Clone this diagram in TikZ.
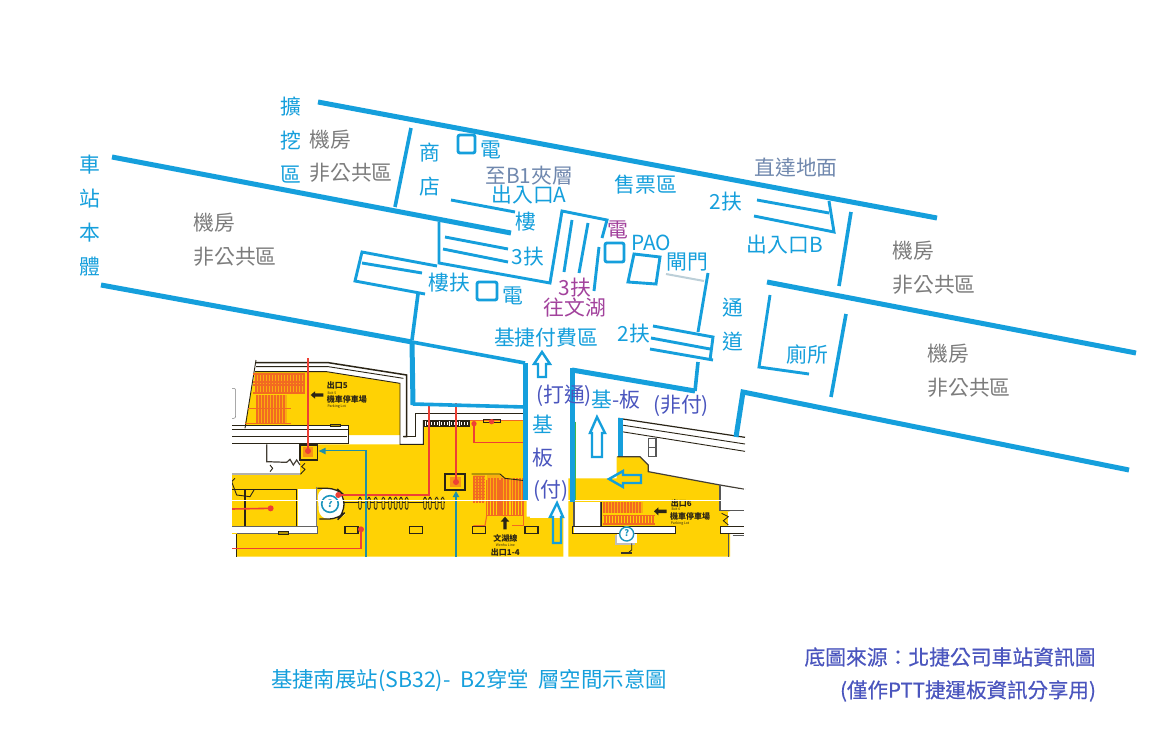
\documentclass[tikz,border=0pt]{standalone}
\usepackage{fontspec}
\setmainfont{Noto Sans CJK TC}
\newfontfamily\semibold[FakeBold=0.45]{Noto Sans CJK TC}
\definecolor{bl}{HTML}{159FDC}
\definecolor{gy}{HTML}{7C7C7C}
\definecolor{sl}{HTML}{7088AE}
\definecolor{pu}{HTML}{A2429C}
\definecolor{ind}{HTML}{4A55BE}
\definecolor{ye}{HTML}{FFD204}
\definecolor{rd}{HTML}{EE4035}
\definecolor{og}{HTML}{F26A21}
\definecolor{te}{HTML}{1E8FA8}
\definecolor{dk}{HTML}{2A2416}
\tikzset{
 thickw/.style={draw=bl,line width=5pt},
 midw/.style={draw=bl,line width=3.6pt},
 thinw/.style={draw=bl,line width=2.9pt},
 lab/.style={inner sep=0pt,font=\fontsize{20.8}{21}\selectfont,text=bl},
 labg/.style={lab,text=gy},
 labs/.style={lab,text=sl},
 labp/.style={lab,text=pu},
 labi/.style={lab,text=ind},
 harrow/.style={draw=bl,line width=2.4pt,fill=none,line join=miter},
 redl/.style={draw=rd,line width=1.6pt},
 wall/.style={draw=dk,line width=.9pt},
 stripe/.style={draw=og,line width=1.6pt},
 mapt/.style={inner sep=0pt,font=\fontsize{8}{8}\selectfont\bfseries,text=dk},
 maps/.style={inner sep=0pt,font=\fontsize{3.5}{4}\selectfont,text=dk},
}
\begin{document}
\begin{tikzpicture}[x=1pt,y=-1pt]
\useasboundingbox (0,0) rectangle (1175,747);
\fill[white] (0,0) rectangle (1175,747);
% ---------- map, left part (coordinates of a 3x crop at 230,350)
\begin{scope}
\clip (232,352) rectangle (745,556);
\begin{scope}[shift={(230,350)},x=1/3pt,y=-1/3pt]
 % yellow
 \fill[ye] (75,65) -- (290,65) -- (510,100) -- (510,255) -- (355,255) -- (355,225) -- (45,225) -- cycle;
 \fill[ye] (5,375) -- (210,375) -- (210,283) -- (580,283) -- (580,210) -- (890,210) -- (890,500) -- (1000,500) -- (1000,620) -- (5,620) -- cycle;
 % walls
 \draw[line width=1.5pt,dk] (78,38) -- (295,38) -- (530,75) -- (530,260) -- (520,260);
 \draw[wall] (78,50) -- (295,50) -- (520,85);
 \draw[wall] (75,65) -- (290,65) -- (510,100) -- (510,283) -- (580,283) -- (580,210);
 \draw[wall] (548,165) -- (890,165);
 \draw[wall] (555,190) -- (890,190);
 \draw[wall] (555,190) -- (555,260) -- (520,260);
 \draw[wall] (78,30) -- (45,235);
 % corridor
 \fill[white] (5,237) rectangle (355,280);
 \draw[wall] (5,225) -- (355,225) -- (355,280) -- (5,280);
 \draw[wall] (5,237) -- (355,237);
 \draw[wall] (5,258) -- (352,258);
 \draw[draw=gy,line width=.5pt,rounded corners=2pt] (5,115) -- (17,115) -- (17,205) -- (5,205);
 \fill[ye!70!black] (302,222) rectangle (330,230);
 \draw[wall] (302,222) rectangle (330,230);
 % ticket gates strip
 \fill[white] (582,212) rectangle (718,228);
 \draw[wall] (582,212) rectangle (718,228);
 \foreach \i in {590,600,...,710}{\draw[dk,line width=.5pt] (\i,215) rectangle +(6,10);}
 \draw[line width=1.6pt,og] (720,212) -- (885,212);
 \draw[wall] (760,209) -- (810,209) -- (810,216) -- (760,216) -- cycle;
 % white room left
 \fill[white] (5,283) rectangle (110,370);
 \fill[white] (110,283) -- (210,283) -- (210,372) -- (110,372) -- cycle;
 \draw[draw=dk!70!gy,line width=1.2pt] (110,283) -- (110,335) -- (170,337) -- (180,328) -- (190,345) -- (200,330) -- (210,345);
 \draw[wall] (5,372) -- (212,372) -- (225,358) -- (215,350) -- (225,340);
 \draw[wall] (120,345) -- (128,355) -- (120,365);
 % lower-left rooms
 \fill[ye] (5,415) rectangle (200,528);
 \draw[line width=1.3pt,dk] (5,418) -- (200,418) -- (200,528);
 \draw[line width=1.3pt,dk] (45,418) -- (45,528);
 \draw[wall] (15,385) -- (5,395) -- (20,435) -- (60,440) -- (72,420);
 \fill[white] (203,418) rectangle (260,528);
 \draw[gy,line width=.8pt] (260,410) -- (260,528);
 \fill[white] (5,530) rectangle (262,550);
 \draw[draw=gy!80!black,line width=1pt] (5,530) -- (262,530) -- (262,550) -- (20,550);
 \fill[ye!70!black] (145,545) rectangle (175,553);
 \draw[wall] (145,545) rectangle (175,553);
 \fill[white] (5,553) rectangle (20,620);
 \draw[wall] (20,553) -- (20,620);
 % info booth
 \fill[white,rounded corners=9pt] (262,415) -- (320,415) -- (342,435) -- (342,495) -- (325,507) -- (268,507) -- cycle;
 \draw[dk,line width=1.3pt,rounded corners=9pt] (262,415) -- (320,415) -- (342,435) -- (342,490) -- (325,507) -- (268,507);
 \draw[te!60!bl,line width=1.6pt] (300,462) circle (25);
 \node[inner sep=0pt,font=\fontsize{10}{10}\selectfont\bfseries,text=te!60!bl] (infoa) at (300,461) {?};
 % seats row
 \draw[dk,line width=.9pt] (340,457) -- (645,457);
 \foreach \i in {390,417,437,460,480,497,513,530,585,600,620,638}{
   \fill[ye] (\i-4,442) rectangle (\i+4,478);
   \draw[dk,line width=.8pt,rounded corners=1.5pt] (\i-4,442) rectangle (\i+4,478);
 }
 % small boxes
 \foreach \i in {345,538,727,885}{\draw[dk,line width=1.1pt] (\i,530) rectangle +(39,20);}
 % stairs right
 \fill[og!35!ye] (730,375) -- (810,375) -- (825,385) -- (885,390) -- (885,455) -- (730,455) -- cycle;
 \foreach \i in {732,741,...,765}{\draw[stripe] (\i,378) -- (\i,458);}
 \foreach \i in {777,786,...,805,816,825,...,840,852,861,...,880}{\draw[stripe] (\i,385) -- (\i,495);}
 \foreach \j in {380,389,...,460}{\draw[og,line width=1pt] (730,\j) -- (765,\j);}
 \fill[ye] (765,375) rectangle (770,495);
 \draw[dk,line width=.9pt] (725,372) -- (810,372) -- (825,385) -- (885,392);
 \draw[og,line width=1.1pt] (770,390) -- (770,497) -- (765,527) -- (730,527);
 \draw[og,line width=1.1pt] (810,390) -- (810,497);
 \draw[og,line width=1.1pt] (845,390) -- (845,497);
 \draw[og,line width=1.1pt] (880,390) -- (880,527) -- (845,527);
 \draw[og,line width=1.1pt] (770,497) -- (880,497);
 % stairs upper-left
 \fill[og!35!ye] (75,70) rectangle (225,130);
 \fill[og!35!ye] (78,135) rectangle (170,222);
 \foreach \i in {78,87,...,222}{\draw[stripe] (\i,70) -- (\i,130);}
 \foreach \i in {81,90,...,170}{\draw[stripe] (\i,135) -- (\i,222);}
 \foreach \j in {72,96,105,128}{\draw[og,line width=2pt] (68,\j) -- (225,\j);}
 \draw[og,line width=1.2pt] (55,175) -- (183,175);
 \draw[og,line width=1.2pt] (45,220) -- (183,220);
 % elevators
 \fill[dk] (208,282) rectangle (265,333);
 \fill[ye] (213,288) rectangle (260,326);
 \fill[og!60!ye] (220,292) rectangle (248,322);
 \fill[dk] (642,370) rectangle (708,422);
 \fill[ye] (648,376) rectangle (702,416);
 \fill[og!60!ye] (660,382) rectangle (692,412);
 % red routes
 \draw[redl] (234,25) -- (234,305);
 \draw[redl] (597,160) -- (597,435) -- (325,435);
 \draw[redl] (678,160) -- (678,395);
 \draw[redl] (732,220) -- (732,277) -- (885,277);
 \draw[redl] (5,477) -- (122,475);
 \draw[redl] (393,538) -- (393,595) -- (5,595);
 \foreach \a/\b/\r in {234/303/9,325/435/9,678/396/9,732/221/8,785/215/8,122/475/9,393/538/9}{\fill[rd] (\a,\b) circle (\r);}
 % teal routes
 \draw[te,line width=1.6pt] (408,620) -- (408,302) -- (285,302);
 \fill[te] (266,303) -- (287,293) -- (287,313) -- cycle;
 \draw[te,line width=1.6pt] (678,620) -- (678,440);
 \fill[te] (678,423) -- (668,441) -- (688,441) -- cycle;
 % black arrows
 \fill[dk] (242,135) -- (255,124) -- (255,130) -- (280,130) -- (280,140) -- (255,140) -- (255,146) -- cycle;
 \fill[dk] (825,500) -- (838,515) -- (830,515) -- (830,538) -- (820,538) -- (820,515) -- (812,515) -- cycle;
 % green edge
 \draw[green!45!gy,line width=1pt] (888,215) -- (888,450);
 % text
 \node[mapt,anchor=west] (t5) at (290,107) {出口5};
 \node[maps,anchor=west] (t5b) at (292,128) {Exit 5};
 \node[mapt,anchor=west] (t5c) at (290,149) {機車停車場};
 \node[maps,anchor=west] (t5d) at (292,170) {Parking Lot};
 \node[mapt] (t1) at (826,566) {文湖線};
 \node[maps] (t1b) at (826,586) {Wenhu Line};
 \node[mapt] (t1c) at (826,608) {出口1-4};
\end{scope}
% right part (coordinates of a 3x crop at 500,350)
\begin{scope}[shift={(500,350)},x=1/3pt,y=-1/3pt]
 \fill[white] (90,120) rectangle (205,505);
 \fill[white] (228,90) rectangle (355,385);
 \fill[ye] (205,385) -- (350,385) -- (350,320) -- (420,320) -- (445,345) -- (445,365) -- (660,405) -- (660,480) -- (690,485) -- (690,620) -- (205,620) -- (205,505) -- cycle;
 \fill[white] (205,100) rectangle (228,385);
 \draw[green!45!gy,line width=1pt] (226,215) -- (226,450);
 % upper wall
 \draw[line width=1.2pt,dk] (355,205) -- (735,262);
 \draw[wall] (365,225) -- (735,282);
 \draw[wall] (365,245) -- (735,304);
 \draw[line width=1.2pt,draw=dk!70!gy] (352,320) -- (420,320) -- (445,345) -- (445,365) -- (660,405);
 \draw[line width=1.2pt,draw=dk!70!gy] (660,405) -- (735,418);
 \draw[line width=1.2pt,draw=gy!70!black] (445,265) rectangle (468,320);
 \draw[line width=1.2pt,draw=gy!70!black] (445,292) -- (468,292);
 % rooms
 \fill[white] (222,456) rectangle (300,528);
 \draw[draw=gy!70!black,line width=1.3pt] (222,456) -- (222,528);
 \draw[draw=gy!70!black,line width=1pt] (300,456) -- (300,528);
 \fill[white] (222,530) rectangle (527,551);
 \draw[dk,line width=1pt] (218,530) rectangle (527,551);
 % stair
 \fill[og!35!ye] (310,456) rectangle (428,490);
 \foreach \i in {312,321,...,428}{\draw[stripe] (\i,456) -- (\i,490);}
 \foreach \i in {315,324,...,465}{\draw[stripe] (\i,498) -- (\i,522);}
 \draw[og,line width=1.2pt] (310,497) -- (465,497);
 \draw[og,line width=1.2pt] (310,522) -- (465,522);
 \draw[dk,line width=.8pt] (305,456) -- (305,528) -- (480,528);
 % right rooms
 \fill[white] (660,410) -- (735,420) -- (735,482) -- (660,482) -- cycle;
 \fill[white] (685,485) rectangle (735,528);
 \draw[draw=gy!70!black,line width=1.2pt] (660,405) -- (660,482) -- (735,482);
 \fill[white] (660,530) rectangle (735,551);
 \draw[dk,line width=1pt] (735,528) -- (660,528) -- (660,551) -- (735,551);
 \draw[dk,line width=.8pt] (665,490) -- (685,500) -- (670,512) -- (685,525);
 \fill[white] (700,553) rectangle (735,620);
 \draw[draw=gy!70!black,line width=1.2pt] (685,553) -- (685,620);
 \draw[draw=gy!70!black,line width=1.2pt] (698,556) -- (735,556);
 \fill[white] (732,352) rectangle (800,620);
 % info
 \fill[gy!50!white] (345,555) rectangle (405,585);
 \fill[white] (350,553) rectangle (410,580);
 \draw[dk,line width=.8pt] (395,580) -- (395,600) -- (385,608);
 \fill[dk!80!gy] (362,606) rectangle (395,612);
 \fill[white] (380,552) circle (23);
 \draw[te!60!bl,line width=1.4pt] (380,552) circle (21);
 \node[inner sep=0pt,font=\fontsize{9}{9}\selectfont\bfseries,text=te!60!bl] (infob) at (380,550) {?};
 % black arrow
 \fill[dk] (462,484) -- (475,472) -- (475,479) -- (500,479) -- (500,489) -- (475,489) -- (475,496) -- cycle;
 \node[mapt,anchor=west] (t6) at (512,459) {出口6};
 \node[maps,anchor=west] (t6b) at (514,478) {Exit 6};
 \node[mapt,anchor=west] (t6c) at (510,499) {機車停車場};
 \node[maps,anchor=west] (t6d) at (512,520) {Parking Lot};
\end{scope}
\end{scope}
% splice line of the two crops
\draw[white,line width=.9pt] (232,500) -- (745,500);
% ---------- blue plan
\draw[thickw] (318,102) -- (937,218);
\draw[thickw] (112,157) -- (511,233);
\draw[thickw] (101,285) -- (412,342);
\draw[thickw] (412,342) -- (413,405);
\draw[midw] (412,342) -- (525,363);
\draw[midw] (413,404) -- (525,407);
\draw[thickw] (525,363) -- (525,500);
\draw[thickw] (572,368) -- (572,502);
\draw[thickw] (572,370) -- (695,391);
\draw[midw] (695,391) -- (698,362);
\draw[thickw] (620,418) -- (620,456);
\draw[thickw] (736,437) -- (743,392) -- (1129,470);
\draw[thickw] (767,282) -- (1136,353);
\draw[midw] (411,128) -- (395,207);
\draw[thinw] (451,200) -- (515,212);
\draw[thinw] (439,222) -- (439,263) -- (550,283) -- (562,211) -- (607,220) -- (602,238);
\draw[thinw] (445,237) -- (508,249);
\draw[thinw] (443,249) -- (508,262);
\draw[thinw] (572,220) -- (564,272);
\draw[thinw] (588,223) -- (579,273);
\draw[thinw] (599,247) -- (594,291);
\draw[thinw,rounded corners=2pt] (605,243) rectangle (624,262);
\draw[thinw,rounded corners=2pt] (477,282) rectangle (497,300);
\draw[thinw,rounded corners=2pt] (458,135) rectangle (475,153);
\draw[thinw] (634,254) -- (660,257) -- (656,284) -- (628,282) -- cycle;
\draw[draw=bl!35!gy!40!white,line width=2pt] (666,274) -- (704,281);
\draw[thinw] (708,273) -- (698,332);
\draw[thinw] (653,326) -- (713,337) -- (710,360);
\draw[thinw] (651,338) -- (710,349);
\draw[thinw] (650,349) -- (713,360);
\draw[thinw] (437,266) -- (362,252) -- (355,281) -- (425,294);
\draw[thinw] (362,263) -- (422,273);
\draw[midw] (418,294) -- (412,340);
% upper right
\draw[thinw] (757,200) -- (829,213);
\draw[thinw] (754,216) -- (834,232) -- (829,201);
\draw[midw] (851,212) -- (839,286);
\draw[thinw] (770,295) -- (759,367) -- (809,374);
\draw[midw] (846,314) -- (831,397);
% hollow arrows
\draw[harrow] (538,377) -- (538,364) -- (534,364) -- (542,352) -- (550,364) -- (546,364) -- (546,377) -- cycle;
\draw[harrow] (592,457) -- (592,433) -- (590,433) -- (597,417) -- (605,433) -- (602,433) -- (602,457) -- cycle;
\draw[harrow] (641,475) -- (623,475) -- (623,471) -- (609,479) -- (623,487) -- (623,483) -- (641,483) -- cycle;
\draw[harrow] (553,543) -- (553,517) -- (550,517) -- (557,503) -- (563,517) -- (561,517) -- (561,543) -- cycle;
% labels
\node[lab] (a1) at (291,107) {擴};
\node[lab] (a2) at (291,141) {挖};
\node[lab] (a3) at (291,175) {區};
\node[labg] (b1) at (330,140) {機房};
\node[labg] (b2) at (351,173) {非公共區};
\node[lab] (c1) at (90,165) {車};
\node[lab] (c2) at (90,199) {站};
\node[lab] (c3) at (90,233) {本};
\node[lab] (c4) at (90,267) {體};
\node[labg] (d1) at (214,223) {機房};
\node[labg] (d2) at (235,257) {非公共區};
\node[lab] (e1) at (430,153) {商};
\node[lab] (e2) at (430,187) {店};
\node[lab] (e3) at (491,150) {電};
\node[labs] (f1) at (529,176) {至B1夾層};
\node[lab] (f2) at (529,195) {出入口A};
\node[lab] (f3) at (646,185) {售票區};
\node[lab] (f4) at (726,202) {2扶};
\node[labs] (f5) at (796,168) {直達地面};
\node[lab] (f6) at (785,245) {出入口B};
\node[labg] (g1) at (913,251) {機房};
\node[labg] (g2) at (934,285) {非公共區};
\node[labg] (g3) at (948,354) {機房};
\node[labg] (g4) at (969,388) {非公共區};
\node[lab] (h1) at (807,354) {廁所};
\node[lab] (h2) at (733,308) {通};
\node[lab] (h3) at (733,342) {道};
\node[lab] (h4) at (687,262) {閘門};
\node[lab] (h5) at (651,243) {PAO};
\node[labp] (h6) at (618,230) {電};
\node[lab] (i1) at (528,257) {3扶};
\node[lab] (i2) at (526,222) {樓};
\node[labp] (i3) at (575,288) {3扶};
\node[labp] (i4) at (575,308) {往文湖};
\node[lab] (i5) at (449,283) {樓扶};
\node[lab] (i6) at (513,296) {電};
\node[lab] (i7) at (546,338) {基捷付費區};
\node[lab] (i8) at (634,334) {2扶};
\node[labi] (j1) at (564,396) {(打通)};
\node[lab] (j2) at (543,424) {基};
\node[labi] (j3) at (543,458) {板};
\node[labi] (j4) at (551,491) {(付)};
\node[labi] (j6) at (616,400) {{\color{bl}基}-板};
\node[labi] (j7) at (681,406) {(非付)};
\node[lab,font=\fontsize{21.4}{22}\selectfont] (k1) at (469,681) {基捷南展站(SB32)-\ \ B2穿堂\ \ 層空間示意圖};
\node[labi,font=\fontsize{20.8}{21}\semibold] (k2) at (950,657) {底圖來源：北捷公司車站資訊圖};
\node[labi,font=\fontsize{20.5}{21}\semibold] (k3) at (968,691) {(僅作PTT捷運板資訊分享用)};
\end{tikzpicture}
\end{document}
